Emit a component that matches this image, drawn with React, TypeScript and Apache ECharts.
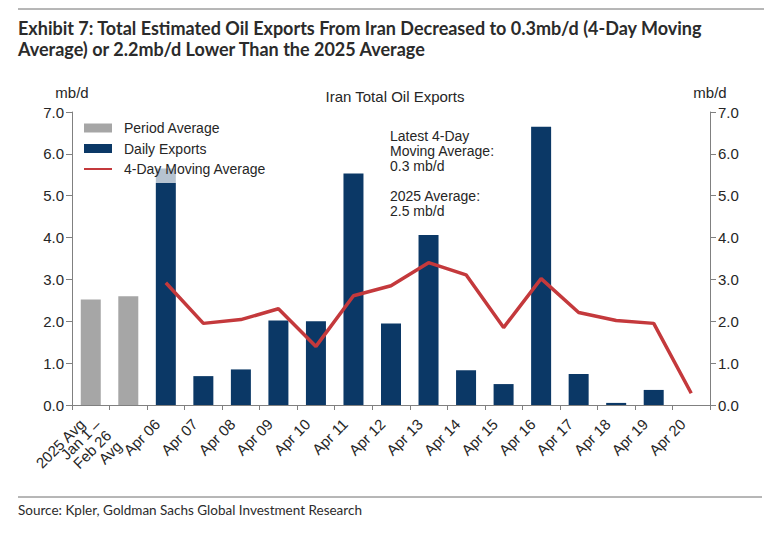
import React, { useEffect, useRef } from 'react';
import * as echarts from 'echarts';

// categories on the x axis
const categories = [
  '2025 Avg',
  'Jan 1 –\nFeb 26\nAvg',
  'Apr 06', 'Apr 07', 'Apr 08', 'Apr 09', 'Apr 10', 'Apr 11', 'Apr 12',
  'Apr 13', 'Apr 14', 'Apr 15', 'Apr 16', 'Apr 17', 'Apr 18', 'Apr 19', 'Apr 20',
];

// mb/d
const periodAverage = [2.52, 2.6, null, null, null, null, null, null, null, null, null, null, null, null, null, null, null];
const dailyExports = [null, null, 5.65, 0.69, 0.85, 2.02, 2.0, 5.53, 1.95, 4.06, 0.83, 0.5, 6.65, 0.74, 0.05, 0.36, 0];
const movingAverage = [null, null, 2.92, 1.95, 2.04, 2.3, 1.4, 2.61, 2.85, 3.4, 3.11, 1.85, 3.02, 2.21, 2.02, 1.95, 0.28];

const yTicks = { min: 0, max: 7, interval: 1 };

const FONT = 'Liberation Sans';
const TEXT = '#262626';
const AXIS = '#808080';

const App: React.FC = () => {
  const ref = useRef<HTMLDivElement>(null);

  useEffect(() => {
    document.body.style.margin = '0';
    if (!ref.current) return;
    const chart = echarts.init(ref.current, undefined, { renderer: 'svg' });

    const yAxisBase = {
      type: 'value' as const,
      min: yTicks.min,
      max: yTicks.max,
      interval: yTicks.interval,
      name: 'mb/d',
      nameLocation: 'end' as const,
      nameGap: 12,
      nameTextStyle: { fontFamily: FONT, fontSize: 15, color: TEXT },
      axisLine: { show: true, lineStyle: { color: AXIS, width: 1 } },
      axisTick: { show: true, length: 6, lineStyle: { color: AXIS } },
      splitLine: { show: false },
      axisLabel: {
        fontFamily: FONT,
        fontSize: 15,
        color: TEXT,
        margin: 8,
        formatter: (v: number) => v.toFixed(1),
      },
    };

    chart.setOption({
      animation: false,
      backgroundColor: '#ffffff',
      textStyle: { fontFamily: FONT },
      title: {
        text: 'Iran Total Oil Exports',
        left: 390,
        top: 84,
        textAlign: 'center',
        textStyle: { fontFamily: FONT, fontSize: 15, fontWeight: 'normal', color: TEXT },
      },
      grid: { left: 72, right: 72, top: 112, bottom: 130 },
      legend: {
        orient: 'vertical',
        left: 75,
        top: 114,
        padding: [6, 10, 6, 8],
        itemGap: 4.5,
        itemWidth: 28,
        itemHeight: 9,
        backgroundColor: 'rgba(255,255,255,0.7)',
        textStyle: { fontFamily: FONT, fontSize: 14, color: TEXT, lineHeight: 16, padding: [0, 0, 0, 7] },
        data: [
          { name: 'Period Average', icon: 'rect' },
          { name: 'Daily Exports', icon: 'rect' },
          { name: '4-Day Moving Average', itemStyle: { opacity: 0 } },
        ],
      },
      xAxis: {
        type: 'category',
        data: categories,
        axisLine: { lineStyle: { color: AXIS, width: 1 } },
        axisTick: { show: true, length: 5, interval: 0, lineStyle: { color: AXIS } },
        axisLabel: {
          interval: 0,
          rotate: 45,
          margin: 8,
          padding: [0, 12, 0, 0],
          fontFamily: FONT,
          fontSize: 15,
          color: TEXT,
          lineHeight: 15,
          formatter: (v: string) =>
            v.includes('\n') ? v.split('\n').map((l) => `{p|${l}}`).join('\n') : v,
          rich: {
            p: { fontFamily: FONT, fontSize: 15, color: TEXT, lineHeight: 15, padding: [0, 16, 0, 0] },
          },
        },
      },
      yAxis: [
        { ...yAxisBase, position: 'left' },
        { ...yAxisBase, position: 'right' },
      ],
      series: [
        {
          name: 'Period Average',
          type: 'bar',
          data: periodAverage,
          barWidth: 20,
          barGap: '-100%',
          itemStyle: { color: '#a6a6a6' },
        },
        {
          name: 'Daily Exports',
          type: 'bar',
          data: dailyExports,
          barWidth: 20,
          itemStyle: { color: '#0b3866' },
        },
        {
          name: '4-Day Moving Average',
          type: 'line',
          yAxisIndex: 1,
          data: movingAverage,
          symbol: 'none',
          lineStyle: { color: '#c4393c', width: 3.5 },
          itemStyle: { color: '#c4393c' },
          z: 3,
        },
      ],
      graphic: [
        {
          type: 'line',
          shape: { x1: 18, y1: 9, x2: 764, y2: 9 },
          style: { stroke: '#6e6e6e', lineWidth: 1 },
        },
        {
          type: 'text',
          left: 18,
          top: 17,
          style: {
            text: 'Exhibit 7: Total Estimated Oil Exports From Iran Decreased to 0.3mb/d (4-Day Moving\nAverage) or 2.2mb/d Lower Than the 2025 Average',
            font: 'bold 18px Lato',
            fill: '#2b2b2b',
            lineHeight: 21,
          },
        },
        {
          type: 'text',
          left: 390,
          top: 128,
          z: 10,
          style: {
            text: 'Latest 4-Day\nMoving Average:\n0.3 mb/d\n\n2025 Average:\n2.5 mb/d',
            font: `14px ${FONT}`,
            fill: TEXT,
            lineHeight: 15,
          },
        },
        {
          type: 'line',
          shape: { x1: 18, y1: 497, x2: 762, y2: 497 },
          style: { stroke: '#6e6e6e', lineWidth: 1 },
        },
        {
          type: 'text',
          left: 18,
          top: 503,
          style: {
            text: 'Source: Kpler, Goldman Sachs Global Investment Research',
            font: '13.5px Lato',
            fill: '#2b2b2b',
          },
        },
      ],
    });

    return () => chart.dispose();
  }, []);

  return <div ref={ref} style={{ width: 782, height: 535 }} />;
};

export default App;
